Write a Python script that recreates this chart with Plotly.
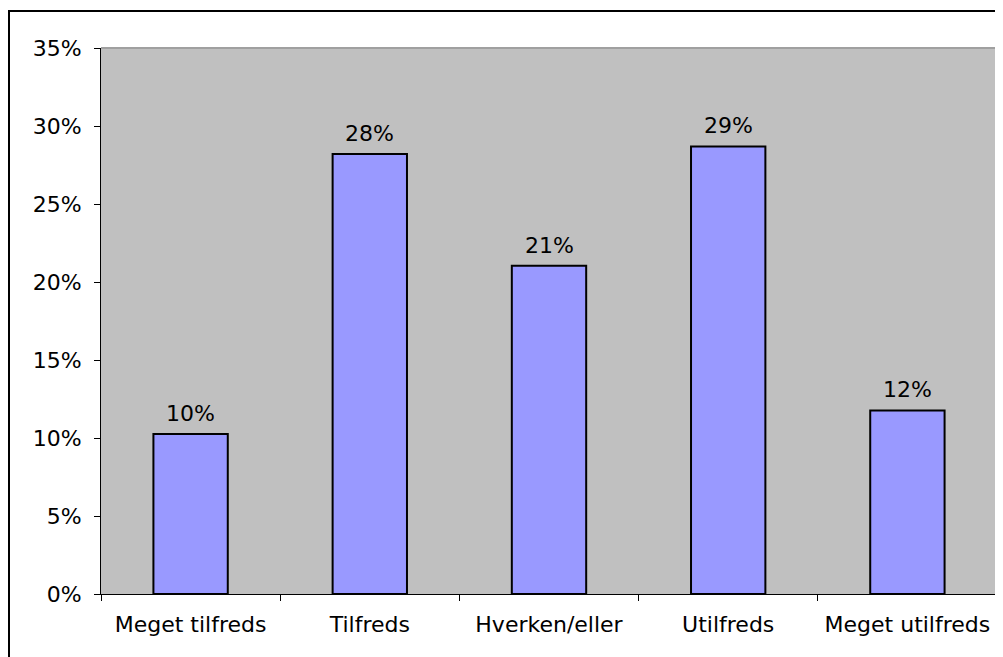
import plotly.graph_objects as go

categories = ["Meget tilfreds", "Tilfreds", "Hverken/eller", "Utilfreds", "Meget utilfreds"]
values = [10.26, 28.2, 21.04, 28.69, 11.77]
labels = ["10%", "28%", "21%", "29%", "12%"]
y_ticks = [0, 5, 10, 15, 20, 25, 30, 35]
y_tick_labels = ["0%", "5%", "10%", "15%", "20%", "25%", "30%", "35%"]

OFF = 8  # page body margin
W, H = 1003, 657
L, T = 101 - OFF, 48 - OFF
pw, ph = 896, 546
R = W - L - pw
B = H - T - ph

def px(x):
    return (x - OFF - L) / pw

def py(y):
    return (T + ph - (y - OFF)) / ph

FONT = "DejaVu Sans, Verdana, sans-serif"
FS = 22

fig = go.Figure(go.Bar(
    x=categories, y=values,
    marker=dict(color="#9999ff", line=dict(color="#000000", width=2)),
    cliponaxis=False,
))

for c, v, t in zip(categories, values, labels):
    fig.add_annotation(x=c, y=v, text=t, showarrow=False, yanchor="bottom",
                       yshift=6, font=dict(family=FONT, size=FS, color="#000000"))

fig.update_layout(
    width=W, height=H,
    margin=dict(l=L, r=R, t=T, b=B, pad=0),
    paper_bgcolor="#ffffff", plot_bgcolor="#c0c0c0",
    bargap=0.585, showlegend=False,
    font=dict(family=FONT, size=FS, color="#000000"),
    xaxis=dict(
        tickson="boundaries", ticks="outside", ticklen=6, tickcolor="#000000",
        showline=True, linecolor="#000000", linewidth=1, showgrid=False,
        tickfont=dict(family=FONT, size=FS), ticklabelstandoff=11,
    ),
    yaxis=dict(
        range=[0, 35], tickvals=y_ticks, ticktext=y_tick_labels,
        ticks="outside", ticklen=6, tickcolor="#000000",
        showline=True, linecolor="#000000", linewidth=1, showgrid=False,
        zeroline=False, tickfont=dict(family=FONT, size=FS), ticklabelstandoff=8,
    ),
    shapes=[
        dict(type="line", xref="paper", yref="paper", x0=0, x1=1, y0=1, y1=1,
             line=dict(color="#a0a0a0", width=2), layer="above"),
        dict(type="line", xref="paper", yref="paper", x0=1, x1=1, y0=0, y1=1,
             line=dict(color="#808080", width=3), layer="above"),
        dict(type="rect", xref="paper", yref="paper",
             x0=px(9), x1=px(1015), y0=py(11), y1=py(670),
             line=dict(color="#000000", width=2)),
    ],
)

fig.write_html("out.html")
